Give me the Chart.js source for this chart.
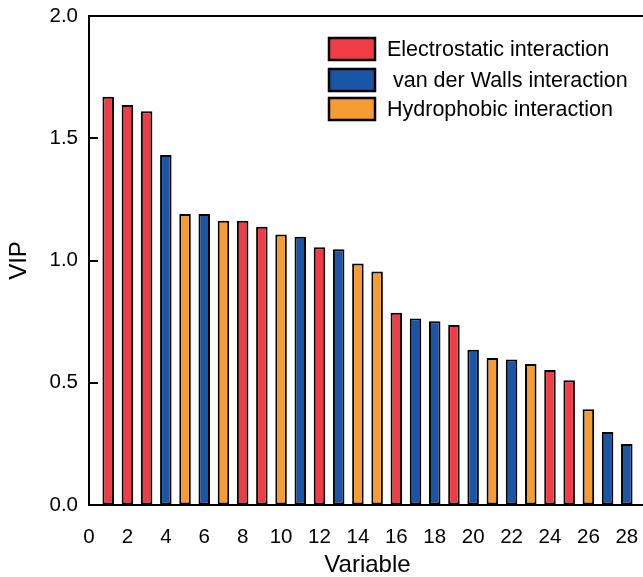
<!DOCTYPE html>
<html>
<head>
<meta charset="utf-8">
<script src="https://cdn.jsdelivr.net/npm/chart.js@4/dist/chart.umd.min.js"></script>
<style>
  html, body { margin: 0; padding: 0; background: #ffffff; overflow: hidden; }
  #wrap { position: relative; width: 646px; height: 577px; }
</style>
</head>
<body>
<div id="wrap"><canvas id="vip"></canvas></div>
<script>
// Variable index on the x axis
const variables = [1, 2, 3, 4, 5, 6, 7, 8, 9, 10, 11, 12, 13, 14,
                   15, 16, 17, 18, 19, 20, 21, 22, 23, 24, 25, 26, 27, 28];
// VIP score of each variable
const vipScores = [1.670, 1.636, 1.610, 1.432, 1.190, 1.190, 1.163, 1.163, 1.138, 1.106,
                   1.097, 1.054, 1.046, 0.988, 0.955, 0.786, 0.763, 0.752, 0.736, 0.635,
                   0.601, 0.595, 0.577, 0.552, 0.510, 0.392, 0.299, 0.249];
// Interaction type of each variable: E = electrostatic, V = van der Waals, H = hydrophobic
const interactionTypes = ['E', 'E', 'E', 'V', 'H', 'V', 'H', 'E', 'E', 'H',
                          'V', 'E', 'V', 'H', 'H', 'E', 'V', 'V', 'E', 'V',
                          'H', 'V', 'H', 'E', 'E', 'H', 'V', 'V'];
// Legend entries
const seriesKeys = ['E', 'V', 'H'];
const seriesNames = ['Electrostatic interaction', ' van der Walls interaction', 'Hydrophobic interaction'];
const seriesColors = ['#F03C46', '#1B55A6', '#F79B33'];
// Axis ticks
const xTickValues = [0, 2, 4, 6, 8, 10, 12, 14, 16, 18, 20, 22, 24, 26, 28];
const yTickValues = [0, 0.5, 1.0, 1.5, 2.0];

const FONT = "'Liberation Sans', Arial, Helvetica, sans-serif";

const datasets = seriesKeys.map((key, i) => ({
  label: seriesNames[i],
  data: variables
    .map((v, j) => ({ x: v, y: vipScores[j], t: interactionTypes[j] }))
    .filter(p => p.t === key)
    .map(p => ({ x: p.x, y: p.y })),
  backgroundColor: seriesColors[i],
  borderColor: '#000000',
  borderWidth: 2,
  borderSkipped: false,
  grouped: false,
  barPercentage: 0.6,
  categoryPercentage: 1.0
}));

// Inward ticks on the value axis, the top frame line and the boxed legend
const frameAndLegend = {
  id: 'frameAndLegend',
  afterDraw(chart) {
    const { ctx, chartArea, scales } = chart;
    ctx.save();
    ctx.strokeStyle = '#000000';
    ctx.lineWidth = 2;
    ctx.beginPath();
    ctx.moveTo(chartArea.left - 1, chartArea.top);
    ctx.lineTo(chartArea.right + 2, chartArea.top);
    yTickValues.forEach(v => {
      const y = Math.round(scales.y.getPixelForValue(v));
      ctx.moveTo(chartArea.left, y);
      ctx.lineTo(chartArea.left + 9, y);
    });
    ctx.stroke();

    const boxX = 329, boxW = 46, boxH = 22, textX = 387;
    const rowTops = [38, 69, 98];
    ctx.font = '21.5px ' + FONT;
    ctx.textAlign = 'left';
    ctx.textBaseline = 'middle';
    chart.data.datasets.forEach((ds, i) => {
      const top = rowTops[i];
      ctx.fillStyle = ds.backgroundColor;
      ctx.fillRect(boxX, top, boxW, boxH);
      ctx.lineWidth = 2.5;
      ctx.strokeStyle = '#000000';
      ctx.strokeRect(boxX, top, boxW, boxH);
      ctx.fillStyle = '#000000';
      ctx.fillText(ds.label, textX, top + boxH / 2 + 1);
    });
    ctx.restore();
  }
};

new Chart(document.getElementById('vip'), {
  type: 'bar',
  data: { datasets },
  options: {
    responsive: true,
    maintainAspectRatio: false,
    animation: false,
    devicePixelRatio: 1,
    layout: { padding: { top: 16, left: 0, right: 0, bottom: 0 } },
    plugins: {
      legend: { display: false },
      tooltip: { enabled: false }
    },
    scales: {
      x: {
        type: 'linear',
        min: 0,
        max: 29,
        offset: false,
        afterFit(scale) {
          scale.height = 72;
          scale.paddingLeft = 0;
          scale.paddingRight = 0;
        },
        afterBuildTicks(scale) { scale.ticks = xTickValues.map(v => ({ value: v })); },
        grid: { display: true, drawOnChartArea: false, drawTicks: false },
        border: { display: true, color: '#000000', width: 2 },
        ticks: {
          color: '#000000',
          font: { family: FONT, size: 20.5 },
          padding: 20,
          maxRotation: 0,
          autoSkip: false
        },
        title: {
          display: true,
          text: 'Variable',
          color: '#000000',
          font: { family: FONT, size: 24, lineHeight: 1 },
          padding: { top: 0, bottom: 0 }
        }
      },
      y: {
        min: 0,
        max: 2,
        afterFit(scale) {
          scale.width = 89;
          scale.paddingTop = 0;
          scale.paddingBottom = 0;
        },
        afterBuildTicks(scale) { scale.ticks = yTickValues.map(v => ({ value: v })); },
        grid: { display: true, drawOnChartArea: false, drawTicks: false },
        border: { display: true, color: '#000000', width: 2 },
        ticks: {
          color: '#000000',
          font: { family: FONT, size: 20.5 },
          padding: 11,
          callback: v => Number(v).toFixed(1)
        },
        title: {
          display: true,
          text: 'VIP',
          color: '#000000',
          font: { family: FONT, size: 24, lineHeight: 1 },
          padding: { top: 7, bottom: 0 }
        }
      }
    }
  },
  plugins: [frameAndLegend]
});
</script>
</body>
</html>
